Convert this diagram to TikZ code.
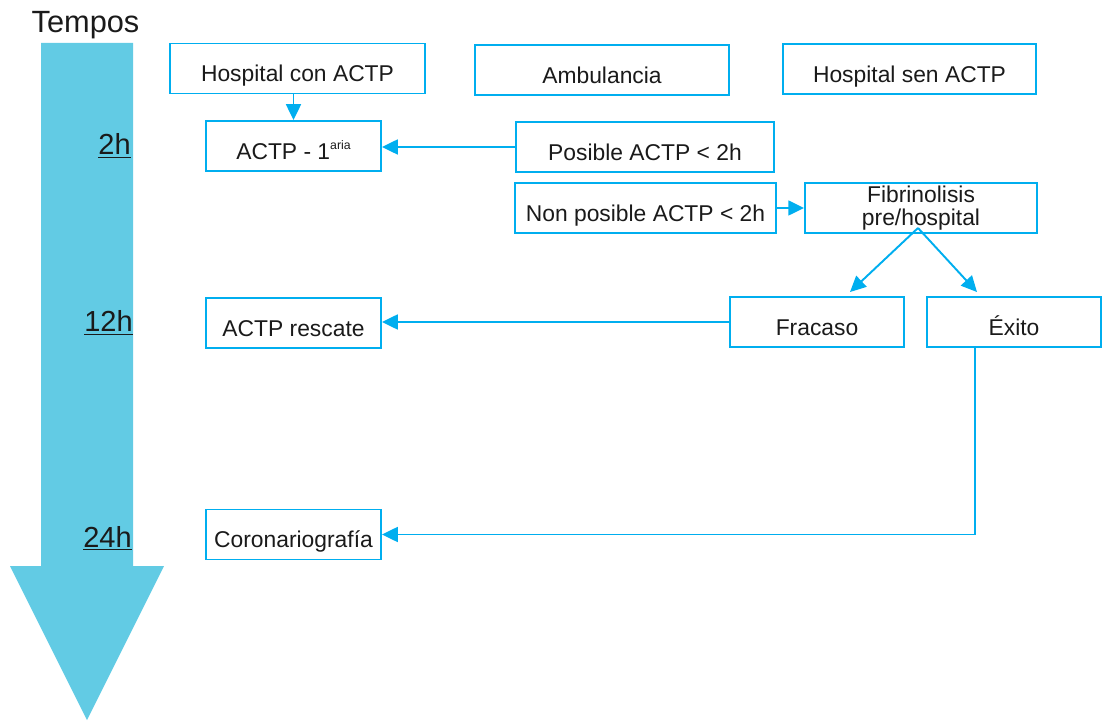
\documentclass[tikz,border=0pt]{standalone}
\usepackage{fontspec}
\setmainfont{Liberation Sans}
\usetikzlibrary{arrows.meta}
\definecolor{tempo}{HTML}{62CBE4}
\definecolor{caixa}{HTML}{00AEEF}
\definecolor{texto}{HTML}{1A1A1A}

\begin{document}
\begin{tikzpicture}[x=0.02cm, y=-0.02cm,
    box/.style={draw=caixa, line width=1.1pt, minimum height=1cm, inner sep=0pt, text=texto, font=\fontsize{13}{13}\selectfont},
    tbox/.style={box, text height=15.3pt, text depth=0pt},
    hora/.style={anchor=base east, inner sep=0pt, text=texto, font=\fontsize{16.5}{18}\selectfont},
    link/.style={draw=caixa, line width=1.1pt, -{Triangle[length=9pt,width=8.5pt]}}]
\useasboundingbox (0,0) rectangle (1105,722);

% frecha do tempo
\fill[tempo] (41,43) -- (133,43) -- (133,566) -- (164,566) -- (87,720) -- (10,566) -- (41,566) -- cycle;
\node[anchor=base, text=texto, font=\fontsize{17.5}{18}\selectfont] (tempos) at (85.5,33) {Tempos};
\node[hora] (h2) at (131,155) {\underline{2h}};
\node[hora] (h12) at (133,332) {\underline{12h}};
\node[hora] (h24) at (132,547) {\underline{24h}};

\node[tbox, minimum width=5.1cm] (hcon) at (297.5,68.5) {Hospital con ACTP};
\node[tbox, minimum width=5.08cm] (amb) at (602,70) {Ambulancia};
\node[tbox, minimum width=5.06cm] (hsen) at (909.5,69) {Hospital sen ACTP};

\node[tbox, minimum width=3.5cm] (actp) at (293.5,146) {ACTP - 1\raisebox{0.8ex}{\fontsize{7}{7}\selectfont aria}};
\node[tbox, minimum width=5.16cm] (posible) at (645,147) {Posible ACTP < 2h};
\node[tbox, minimum width=5.22cm] (nonpos) at (645.5,208) {Non posible ACTP < 2h};
\node[box, minimum width=4.64cm, align=center] (fibr) at (921,208) {Fibrinolisis\\pre/hospital};
%\node at (921,208) {pre/hospital};

\node[tbox, minimum width=3.48cm] (fracaso) at (817,322) {Fracaso};
\node[tbox, minimum width=3.48cm] (exito) at (1014,322) {Éxito};
\node[tbox, minimum width=3.5cm] (rescate) at (293.5,323) {ACTP rescate};
\node[tbox, minimum width=3.5cm] (coro) at (293.5,534.5) {Coronariografía};

\coordinate (split) at (918,228);

\draw[link] (hcon.south -| actp.north) -- (actp.north);
\draw[link] (posible.west) -- (posible.west -| actp.east);
\draw[link] (nonpos.east) -- (fibr.west);
\draw[link] (split) -- ([xshift=0.66cm,yshift=0.08cm]fracaso.north);
\draw[link] (split) -- ([xshift=-0.74cm,yshift=0.08cm]exito.north);
\draw[link] (fracaso.west) -- (fracaso.west -| rescate.east);
\draw[link] ([xshift=-0.78cm]exito.south) |- (coro.east);

\end{tikzpicture}
\end{document}
